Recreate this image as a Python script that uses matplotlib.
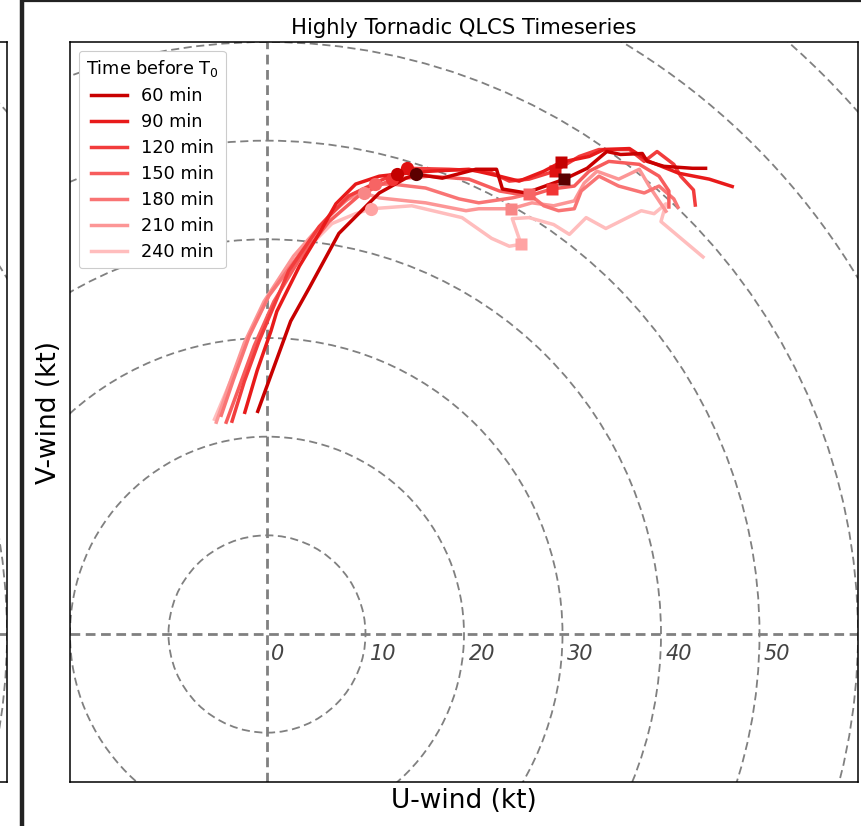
import matplotlib
matplotlib.use('Agg')
import matplotlib.pyplot as plt
from matplotlib.lines import Line2D

# ---------------- data (kt) ----------------
labels = ['60 min', '90 min', '120 min', '150 min', '180 min', '210 min', '240 min']
line_colors = ['#c80000', '#e81a1a', '#f23c3c', '#f75c5c', '#f97474', '#fc9696', '#ffbdbd']
marker_colors = ['#5c0000', '#c40000', '#e01212', '#f23434', '#f76464', '#f88686', '#ffa3a3']

u60 = [-1.0, 2.4, 4.3, 7.3, 11.4, 14.1, 15.1, 17.8, 21.2, 23.3, 23.9, 26.3, 30.2, 32.5, 34.5, 35.9, 38.1, 38.6, 40.3, 43.2, 44.7]
v60 = [22.4, 31.7, 35.1, 40.6, 44.7, 46.2, 46.6, 46.2, 47.1, 47.1, 45.1, 44.7, 46.1, 47.2, 48.9, 48.6, 48.7, 47.9, 47.4, 47.2, 47.2]

u90 = [-2.3, -1.0, 0.4, 1.0, 3.3, 5.3, 7.0, 9.0, 11.4, 13.2, 16.5, 20.5, 23.6, 25.6, 28.1, 29.8, 32.7, 34.2, 36.8, 38.8, 41.8, 44.9, 47.4]
v90 = [22.3, 26.7, 30.7, 32.7, 37.3, 40.6, 43.6, 45.6, 46.4, 46.6, 46.9, 47.1, 46.4, 45.9, 46.9, 47.8, 48.4, 49.1, 49.2, 47.9, 46.7, 46.1, 45.3]

u120 = [-3.6, -2.3, -0.8, 2.2, 5.3, 8.3, 11.4, 14.2, 18.5, 22.5, 24.6, 26.6, 29.2, 31.7, 33.7, 36.8, 38.3, 39.6, 41.3, 42.0, 43.3, 43.5]
v120 = [21.4, 25.6, 29.7, 36.8, 41.3, 44.4, 45.9, 47.2, 47.1, 46.9, 45.9, 46.1, 46.9, 48.4, 49.1, 49.1, 47.9, 48.9, 47.6, 46.4, 45.0, 43.3]

u150 = [-4.2, -2.8, -1.3, 0.7, 3.3, 6.3, 9.3, 12.7, 16.5, 20.5, 23.6, 26.6, 28.9, 31.2, 32.7, 34.7, 37.8, 39.8, 40.8, 40.8]
v150 = [21.3, 25.1, 29.2, 33.7, 38.0, 41.8, 44.4, 46.1, 46.4, 46.1, 44.9, 44.4, 45.1, 45.4, 46.9, 47.9, 47.6, 46.4, 44.9, 43.1]

u180 = [-4.7, -3.4, -1.8, 0.2, 3.3, 6.3, 8.8, 11.0, 12.7, 16.1, 19.5, 21.5, 24.9, 26.6, 28.1, 29.6, 31.2, 31.9, 33.7, 35.7, 38.3, 39.8, 41.3, 41.8]
v180 = [22.0, 25.8, 30.2, 34.3, 38.5, 42.4, 44.6, 45.6, 45.6, 45.2, 44.1, 43.7, 44.2, 44.6, 43.4, 42.9, 43.1, 44.9, 46.4, 45.4, 44.7, 45.4, 44.1, 43.1]

u210 = [-5.2, -3.9, -2.3, -0.3, 2.7, 5.8, 7.8, 9.8, 11.4, 16.1, 20.2, 21.5, 24.8, 26.9, 29.1, 31.2, 32.2, 33.5, 35.7, 37.8, 38.8, 40.6]
v210 = [21.3, 25.1, 29.5, 33.7, 38.3, 41.8, 43.9, 44.7, 44.2, 43.7, 42.9, 43.1, 43.1, 43.7, 43.4, 43.9, 45.7, 46.9, 46.1, 47.1, 45.4, 42.7]

u240 = [-5.4, -3.7, -1.8, 0.2, 3.3, 6.6, 9.0, 10.6, 14.7, 19.8, 22.8, 24.6, 25.8, 24.9, 26.6, 29.1, 30.7, 32.4, 34.4, 38.0, 39.3, 40.5, 40.0, 44.4]
v240 = [21.6, 25.6, 30.4, 34.3, 38.3, 41.6, 42.6, 43.1, 43.4, 42.2, 40.1, 39.3, 39.5, 42.1, 42.2, 41.5, 40.5, 42.2, 41.1, 42.9, 42.6, 43.6, 41.8, 38.1]

series_u = [u60, u90, u120, u150, u180, u210, u240]
series_v = [v60, v90, v120, v150, v180, v210, v240]

circle_u = [15.1, 13.2, 14.2, 12.7, 11.0, 9.8, 10.6]
circle_v = [46.6, 46.6, 47.2, 46.1, 45.6, 44.7, 43.1]
square_u = [30.2, 29.8, 29.2, 28.9, 26.6, 24.8, 25.8]
square_v = [46.1, 47.8, 46.9, 45.1, 44.6, 43.1, 39.5]

ring_radii = [10, 20, 30, 40, 50, 60, 70, 80]
ring_labels = ['0', '10', '20', '30', '40', '50']

# ---------------- figure ----------------
W, H = 861, 826
fig = plt.figure(figsize=(W / 100, H / 100), dpi=100)

ax_l, ax_b = 70 / W, (H - 782) / H
ax_w, ax_h = (858 - 70) / W, (782 - 42) / H
XLIM, YLIM = (-20, 60), (-15, 60)


def draw_grid(a):
    for r in ring_radii:
        c = plt.Circle((0, 0), r, fill=False, ls=(0, (4.5, 2.5)), color='#808080', lw=1.3, zorder=1)
        a.add_patch(c)
    a.axhline(0, color='#808080', ls=(0, (3.5, 2)), lw=2.0, zorder=1)
    a.axvline(0, color='#808080', ls=(0, (3.5, 2)), lw=2.0, zorder=1)
    a.set_xlim(*XLIM)
    a.set_ylim(*YLIM)
    a.set_xticks([])
    a.set_yticks([])
    for s in a.spines.values():
        s.set_linewidth(1.1)


# fragment of neighbouring panel on the left
ax_prev = fig.add_axes([7 / W - ax_w, ax_b, ax_w, ax_h])
draw_grid(ax_prev)

ax = fig.add_axes([ax_l, ax_b, ax_w, ax_h])
draw_grid(ax)

for i, lab in enumerate(ring_labels):
    ax.text(i * 10 + 0.45, -2.0, lab, ha='left', va='center', fontsize=15,
            style='italic', color='#444444', zorder=2)

n = len(labels)
handles = []
for i in reversed(range(n)):
    ax.plot(series_u[i], series_v[i], color=line_colors[i], lw=2.5,
            solid_capstyle='butt', zorder=3 + (n - i) * 0.1, label=labels[i])
for i in range(n):
    handles.append(Line2D([0], [0], color=line_colors[i], lw=2.5))

for i in reversed(range(n)):
    ax.plot(circle_u[i], circle_v[i], 'o', color=marker_colors[i], ms=9.5, mec='none', zorder=5)
    ax.plot(square_u[i], square_v[i], 's', color=marker_colors[i], ms=9.0, mec='none', zorder=5)

leg = ax.legend(handles, labels, title='Time before T$_0$', loc='upper left',
                fontsize=12.8, title_fontsize=12.8, framealpha=1.0,
                borderaxespad=0.5, handlelength=2.0, labelspacing=0.45)
leg.get_frame().set_linewidth(0.8)
leg.set_zorder(10)

ax.set_title('Highly Tornadic QLCS Timeseries', fontsize=15.2, pad=6)
ax.set_xlabel('U-wind (kt)', fontsize=19, labelpad=4)
ax.set_ylabel('V-wind (kt)', fontsize=19, labelpad=6)

# panel separators / frame of the cropped figure
fig.add_artist(Line2D([22 / W, 22 / W], [0, 1], transform=fig.transFigure,
                      color='#222222', lw=3.2))
fig.add_artist(Line2D([22 / W, 1], [1 - 1 / H, 1 - 1 / H], transform=fig.transFigure,
                      color='#222222', lw=1.6))

fig.savefig('out.png', dpi=100)
